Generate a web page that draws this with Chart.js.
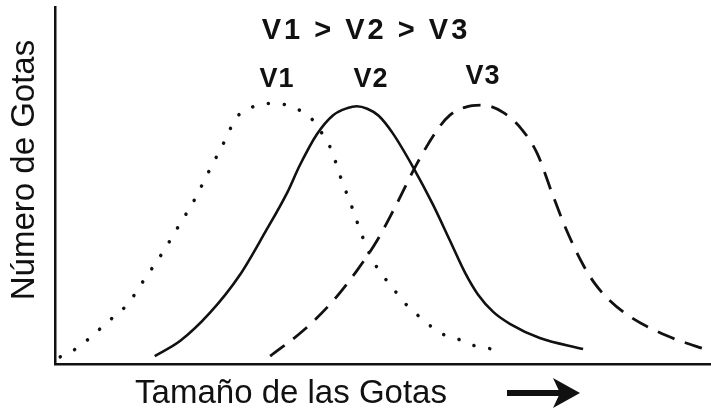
<!DOCTYPE html>
<html>
<head>
<meta charset="utf-8">
<script src="https://cdn.jsdelivr.net/npm/chart.js@4.4.1/dist/chart.umd.min.js"></script>
<style>
  html, body { margin: 0; padding: 0; background: #fff; }
  #wrap { width: 711px; height: 414px; position: relative; }
</style>
</head>
<body>
<div id="wrap"><canvas id="gotas"></canvas></div>
<script>
// tamaño de gota (eje x, 0-100) y número de gotas (eje y, 0-100)
const v1X = [0.8, 3.4, 5.3, 7.2, 9.1, 11.0, 13.7, 16.3, 18.8, 21.2, 23.3, 25.6, 27.7, 30.0, 32.5, 35.4, 37.8, 39.6, 40.9, 42.1, 43.6, 45.3, 46.8, 48.3, 50.0, 51.5, 53.0, 56.7, 58.7, 61.4, 64.0, 66.6];
const v1Y = [2.0, 4.5, 7.3, 10.4, 13.5, 16.6, 23.9, 30.9, 38.5, 45.8, 53.4, 61.5, 69.1, 71.9, 73.0, 72.5, 70.5, 67.7, 64.0, 60.1, 52.0, 43.8, 36.0, 29.5, 24.7, 21.3, 17.7, 11.5, 8.7, 7.0, 5.1, 4.2];

const v2X = [15.2, 19.1, 23.6, 28.2, 32.0, 35.4, 37.3, 39.9, 42.4, 44.6, 46.0, 47.6, 49.3, 51.5, 54.6, 57.6, 60.2, 62.5, 64.5, 66.8, 69.4, 73.9, 80.5];
const v2Y = [2.2, 6.5, 14.3, 25.0, 36.8, 48.0, 55.6, 64.3, 69.7, 71.7, 72.2, 71.5, 69.6, 64.6, 55.1, 44.7, 34.6, 25.6, 19.4, 14.6, 11.2, 7.3, 4.2];

const v3X = [32.8, 37.8, 42.4, 46.0, 49.1, 51.8, 55.2, 58.2, 60.2, 62.5, 65.2, 68.3, 71.3, 73.5, 75.9, 78.0, 80.5, 82.3, 84.6, 87.7, 93.3, 99.8];
const v3Y = [2.2, 9.3, 17.7, 26.1, 34.6, 43.8, 56.2, 65.4, 69.7, 71.9, 72.5, 70.5, 65.4, 59.0, 47.2, 37.4, 27.8, 22.5, 17.7, 13.2, 7.9, 3.7];

const series = ['V1', 'V2', 'V3'];
const titulo = 'V1 > V2 > V3';
const tituloX = 'Tamaño de las Gotas';
const tituloY = 'Número de Gotas';

const puntos = (xs, ys) => xs.map((x, i) => ({x: x, y: ys[i]}));

const FUENTE = '"Liberation Sans", Arial, sans-serif';

// textos, etiquetas de curvas y la flecha del eje x
const rotulos = {
  id: 'rotulos',
  afterDraw(chart){
    const ctx = chart.ctx;
    ctx.save();
    ctx.fillStyle = '#111';
    ctx.textAlign = 'center';
    ctx.textBaseline = 'middle';

    ctx.font = 'bold 29px ' + FUENTE;
    ctx.letterSpacing = '3px';
    ctx.fillText(titulo, 366, 31);

    ctx.font = 'bold 27px ' + FUENTE;
    ctx.letterSpacing = '1px';
    const posX = [277, 371, 483];
    const posY = [80, 80, 77];
    series.forEach((s, i) => ctx.fillText(s, posX[i], posY[i]));

    ctx.letterSpacing = '0px';
    ctx.font = '33px ' + FUENTE;
    ctx.fillText(tituloX, 291, 394);

    ctx.save();
    ctx.translate(25, 170);
    ctx.rotate(-Math.PI / 2);
    ctx.font = '33px ' + FUENTE;
    ctx.fillText(tituloY, 0, 0);
    ctx.restore();

    // flecha
    ctx.strokeStyle = '#111';
    ctx.lineWidth = 6;
    ctx.beginPath();
    ctx.moveTo(507, 393);
    ctx.lineTo(566, 393);
    ctx.stroke();
    ctx.beginPath();
    ctx.moveTo(580, 393);
    ctx.lineTo(553, 378);
    ctx.lineTo(560, 393);
    ctx.lineTo(553, 408);
    ctx.closePath();
    ctx.fill();

    ctx.restore();
  }
};

new Chart(document.getElementById('gotas').getContext('2d'), {
  type: 'line',
  data: {
    datasets: [
      {
        label: series[0],
        data: puntos(v1X, v1Y),
        borderColor: '#111',
        borderWidth: 3.5,
        borderDash: [0.1, 16],
        borderCapStyle: 'round',
        cubicInterpolationMode: 'monotone',
        pointRadius: 0
      },
      {
        label: series[1],
        data: puntos(v2X, v2Y),
        borderColor: '#111',
        borderWidth: 2.6,
        cubicInterpolationMode: 'monotone',
        pointRadius: 0
      },
      {
        label: series[2],
        data: puntos(v3X, v3Y),
        borderColor: '#111',
        borderWidth: 2.8,
        borderDash: [18, 11],
        cubicInterpolationMode: 'monotone',
        pointRadius: 0
      }
    ]
  },
  options: {
    responsive: true,
    maintainAspectRatio: false,
    animation: false,
    layout: { padding: { left: 47, top: 7, right: 0, bottom: 42 } },
    scales: {
      x: {
        type: 'linear',
        min: 0,
        max: 100,
        ticks: { display: false },
        grid: { display: false },
        border: { display: true, color: '#111', width: 2.5 }
      },
      y: {
        min: 0,
        max: 100,
        ticks: { display: false },
        grid: { display: false },
        border: { display: true, color: '#111', width: 2.5 }
      }
    },
    plugins: {
      legend: { display: false },
      tooltip: { enabled: false }
    }
  },
  plugins: [rotulos]
});
</script>
</body>
</html>
